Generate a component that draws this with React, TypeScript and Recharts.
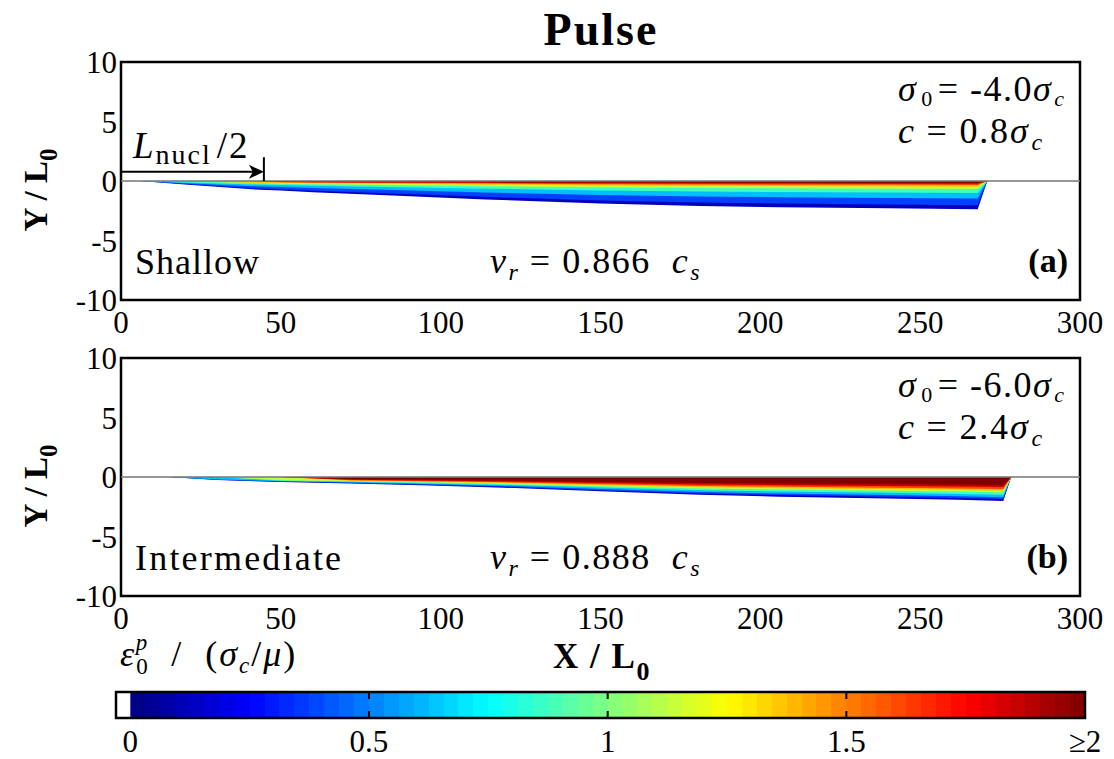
import React from 'react';
import {
  ComposedChart,
  Area,
  Line,
  XAxis,
  YAxis,
  ReferenceLine,
  ReferenceArea,
  ReferenceDot,
} from 'recharts';

const FONT = '"Liberation Serif", "Times New Roman", serif';

// axes
const xTicks = [0, 50, 100, 150, 200, 250, 300];
const yTicks = [-10, -5, 0, 5, 10];

// plastic strain levels (contour levels) and their colours (jet)
const strainLevels = [0, 0.25, 0.5, 0.75, 1.0, 1.25, 1.5, 1.75, 2.0];
const bandColors = ['#0000BF', '#0040FF', '#00BFFF', '#40FFBF', '#BFFF40', '#FFBF00', '#FF4000', '#BF0000', '#800000'];

// panel (a) Shallow: x positions, plastic-zone thickness below fault, peak strain on fault
const shallowX = [6, 20, 41, 50, 60, 83, 114, 150, 181, 206, 240, 268, 271];
const shallowThick = [0, 0.3, 0.7, 0.8, 0.95, 1.2, 1.55, 1.9, 2.1, 2.2, 2.3, 2.38, 0];
const shallowPeak = [0.3, 0.8, 1.3, 2.2, 2.5, 2.5, 2.5, 2.5, 2.5, 2.5, 2.5, 2.5, 2.5];
// fraction of thickness where strain exceeds each level
const shallowFrac = [1.0, 0.86, 0.62, 0.42, 0.28, 0.2, 0.14, 0.1, 0.06];

// panel (b) Intermediate
const interX = [15, 30, 50, 72, 94, 120, 150, 181, 206, 240, 262, 276, 278.5];
const interThick = [0, 0.25, 0.42, 0.55, 0.7, 0.9, 1.2, 1.5, 1.65, 1.8, 1.92, 2.02, 0];
const interPeak = [0.3, 0.7, 1.2, 2.0, 2.3, 2.5, 2.5, 2.5, 2.5, 2.5, 2.5, 2.5, 2.5];
const interFrac = [1.0, 0.92, 0.84, 0.74, 0.64, 0.57, 0.5, 0.42, 0.33];

// nucleation half-length marker
const nuclHalf = 44.7;
const nuclArrowY = 0.77;
const nuclBarTop = 2.0;

// colorbar
const cbMin = -0.03;
const cbMax = 2;
const cbTicks = [0, 0.5, 1, 1.5, 2];
const cbTickLabels = ['0', '0.5', '1', '1.5', '≥2'];
const cbDashes = [0.5, 1, 1.5];

function buildRows(xs: number[], thick: number[], peak: number[], frac: number[]) {
  return xs.map((x, i) => {
    const row: Record<string, number> = { x };
    strainLevels.forEach((lvl, k) => {
      row['b' + k] = peak[i] >= lvl ? -thick[i] * frac[k] : 0;
    });
    return row;
  });
}

function jet(t: number) {
  const c = (v: number) => Math.round(255 * Math.max(0, Math.min(1, v)));
  const r = c(1.5 - Math.abs(4 * t - 3));
  const g = c(1.5 - Math.abs(4 * t - 2));
  const b = c(1.5 - Math.abs(4 * t - 1));
  return `rgb(${r},${g},${b})`;
}

const tickStyle = { fontSize: 31, fill: '#000', fontFamily: FONT };
const NB = '\u00A0';

function Arrowhead(props: any) {
  const { cx, cy } = props;
  if (cx == null || cy == null) return null;
  return <path d={`M ${cx} ${cy} L ${cx - 15} ${cy - 7} L ${cx - 11} ${cy} L ${cx - 15} ${cy + 7} Z`} fill="#000" />;
}

function Panel({ rows, showNucl }: { rows: Record<string, number>[]; showNucl: boolean }) {
  return (
    <ComposedChart width={1114} height={340} data={rows} margin={{ top: 62, right: 34, left: 0, bottom: 0 }}>
      <XAxis
        dataKey="x"
        type="number"
        domain={[0, 300]}
        ticks={xTicks}
        interval={0}
        allowDataOverflow
        axisLine={false}
        tickLine={false}
        tickSize={0}
        tickMargin={11}
        height={40}
        tick={tickStyle}
      />
      <YAxis
        type="number"
        domain={[-10, 10]}
        ticks={yTicks}
        interval={0}
        allowDataOverflow
        axisLine={false}
        tickLine={false}
        tickSize={0}
        tickMargin={4}
        width={121}
        tick={tickStyle}
      />
      <ReferenceLine y={0} stroke="#777" strokeWidth={1.5} />
      {strainLevels.map((lvl, k) => (
        <Area
          key={k}
          dataKey={'b' + k}
          type="linear"
          stroke="none"
          fill={bandColors[k]}
          fillOpacity={1}
          baseValue={0}
          dot={false}
          activeDot={false}
          isAnimationActive={false}
        />
      ))}
      {showNucl && (
        <ReferenceLine
          segment={[{ x: 0, y: nuclArrowY }, { x: nuclHalf - 2, y: nuclArrowY }]}
          stroke="#000"
          strokeWidth={2}
        />
      )}
      {showNucl && (
        <ReferenceLine
          segment={[{ x: nuclHalf, y: 0 }, { x: nuclHalf, y: nuclBarTop }]}
          stroke="#000"
          strokeWidth={2}
        />
      )}
      {showNucl && <ReferenceDot x={nuclHalf} y={nuclArrowY} r={0} shape={Arrowhead} />}
      <ReferenceArea x1={0} x2={300} y1={-10} y2={10} fill="none" stroke="#000" strokeWidth={2.5} />
    </ComposedChart>
  );
}

function ColorBar() {
  const n = 64;
  const stops: React.ReactNode[] = [];
  for (let i = 0; i < n; i++) {
    const col = jet((i + 0.5) / n);
    stops.push(<stop key={'a' + i} offset={`${(i / n) * 100}%`} stopColor={col} />);
    stops.push(<stop key={'b' + i} offset={`${((i + 1) / n) * 100}%`} stopColor={col} />);
  }
  const rows = cbTicks.map((v) => ({ v, y: 0.5 }));
  return (
    <ComposedChart
      width={1114}
      height={100}
      data={rows}
      margin={{ top: 12, right: 29, left: 116, bottom: 0 }}
    >
      <defs>
        <linearGradient id="jetGrad" x1="0" y1="0" x2="1" y2="0">
          {stops}
        </linearGradient>
      </defs>
      <XAxis
        dataKey="v"
        type="number"
        domain={[cbMin, cbMax]}
        ticks={cbTicks}
        interval={0}
        allowDataOverflow
        axisLine={false}
        tickLine={false}
        tickSize={0}
        tickMargin={12}
        height={62}
        tick={tickStyle}
        tickFormatter={(v: number) => cbTickLabels[cbTicks.indexOf(v)] ?? String(v)}
      />
      <YAxis type="number" domain={[0, 1]} allowDataOverflow hide />
      <Line dataKey="y" stroke="none" dot={false} activeDot={false} isAnimationActive={false} />
      <ReferenceArea x1={cbMin} x2={0} y1={0} y2={1} fill="#fff" fillOpacity={1} stroke="none" ifOverflow="visible" />
      <ReferenceArea x1={0} x2={cbMax} y1={0} y2={1} fill="url(#jetGrad)" fillOpacity={1} stroke="none" ifOverflow="visible" />
      {cbDashes.map((d) => (
        <ReferenceLine key={d} x={d} stroke="#000" strokeWidth={2} strokeDasharray="7 12" ifOverflow="visible" />
      ))}
      <ReferenceArea x1={cbMin} x2={cbMax} y1={0} y2={1} fill="none" stroke="#000" strokeWidth={2.5} ifOverflow="visible" />
    </ComposedChart>
  );
}

function PanelTexts({ dy, s0, c, name, nameSpacing, vr, tag }: { dy: number; s0: string; c: string; name: string; nameSpacing: number; vr: string; tag: string }) {
  const big = 36;
  const sub = 24;
  return (
    <g fontFamily={FONT} fill="#000">
      <text x={898} y={101 + dy} fontSize={big} letterSpacing={1.5}>
        <tspan fontStyle="italic">σ</tspan>
        <tspan fontSize={22} dx={4} dy={5}>0</tspan>
        <tspan dx={4} dy={-5}>{'=' + NB + s0}</tspan>
        <tspan fontStyle="italic">σ</tspan>
        <tspan fontStyle="italic" fontSize={22} dx={2} dy={5}>c</tspan>
      </text>
      <text x={898} y={143 + dy} fontSize={big} letterSpacing={1.8}>
        <tspan fontStyle="italic">c</tspan>
        <tspan>{NB + '=' + NB + c}</tspan>
        <tspan fontStyle="italic">σ</tspan>
        <tspan fontStyle="italic" fontSize={sub} dx={2} dy={7}>c</tspan>
      </text>
      <text x={135} y={274 + dy} fontSize={36} letterSpacing={nameSpacing}>{name}</text>
      <text x={490} y={273 + dy} fontSize={big} letterSpacing={1.5}>
        <tspan fontStyle="italic">v</tspan>
        <tspan fontStyle="italic" fontSize={sub} dx={1} dy={7}>r</tspan>
        <tspan dy={-7}>{NB + '=' + NB + vr + NB + NB}</tspan>
        <tspan fontStyle="italic">c</tspan>
        <tspan fontStyle="italic" fontSize={sub} dx={1} dy={7}>s</tspan>
      </text>
      <text x={1068} y={272 + dy} fontSize={34} fontWeight="bold" textAnchor="end">{tag}</text>
      <text transform={`translate(47, ${190 + dy}) rotate(-90)`} fontSize={33} fontWeight="bold" textAnchor="middle">
        Y / L<tspan fontSize={25} dy={10}>0</tspan>
      </text>
    </g>
  );
}

export default function App() {
  const shallowRows = buildRows(shallowX, shallowThick, shallowPeak, shallowFrac);
  const interRows = buildRows(interX, interThick, interPeak, interFrac);
  return (
    <div style={{ position: 'absolute', left: 0, top: 0, width: 1114, height: 759, background: '#fff', fontFamily: FONT }}>
      <div style={{ position: 'absolute', left: 0, top: 0 }}>
        <Panel rows={shallowRows} showNucl={true} />
      </div>
      <div style={{ position: 'absolute', left: 0, top: 296 }}>
        <Panel rows={interRows} showNucl={false} />
      </div>
      <div style={{ position: 'absolute', left: 0, top: 680 }}>
        <ColorBar />
      </div>
      <svg width={1114} height={759} style={{ position: 'absolute', left: 0, top: 0, pointerEvents: 'none' }}>
        <text x={601} y={45} fontFamily={FONT} fontSize={46} fontWeight="bold" textAnchor="middle" letterSpacing={2}>Pulse</text>
        <PanelTexts dy={0} s0="-4.0" c="0.8" name="Shallow" nameSpacing={1} vr="0.866" tag="(a)" />
        <PanelTexts dy={296} s0="-6.0" c="2.4" name="Intermediate" nameSpacing={2.2} vr="0.888" tag="(b)" />
        <text x={133} y={158} fontFamily={FONT} fontSize={37} letterSpacing={2}>
          <tspan fontStyle="italic">L</tspan>
          <tspan fontSize={28} dy={6}>nucl</tspan>
          <tspan dx={5} dy={-6}>/2</tspan>
        </text>
        <text x={602} y={668} fontFamily={FONT} fontSize={35} fontWeight="bold" textAnchor="middle" letterSpacing={1.5}>
          X / L<tspan fontSize={26} dy={12}>0</tspan>
        </text>
        <text x={120} y={666} fontFamily={FONT} fontSize={36} letterSpacing={2}>
          <tspan fontStyle="italic">ε</tspan>
          <tspan fontSize={23} dy={8}>0</tspan>
          <tspan fontSize={23} fontStyle="italic" dx={-14} dy={-24}>p</tspan>
          <tspan dy={16}>{NB + NB + '/' + NB + NB + '('}</tspan>
          <tspan fontStyle="italic">σ</tspan>
          <tspan fontStyle="italic" fontSize={23} dy={7}>c</tspan>
          <tspan dy={-7}>/</tspan>
          <tspan fontStyle="italic">μ</tspan>
          <tspan>)</tspan>
        </text>
      </svg>
    </div>
  );
}
